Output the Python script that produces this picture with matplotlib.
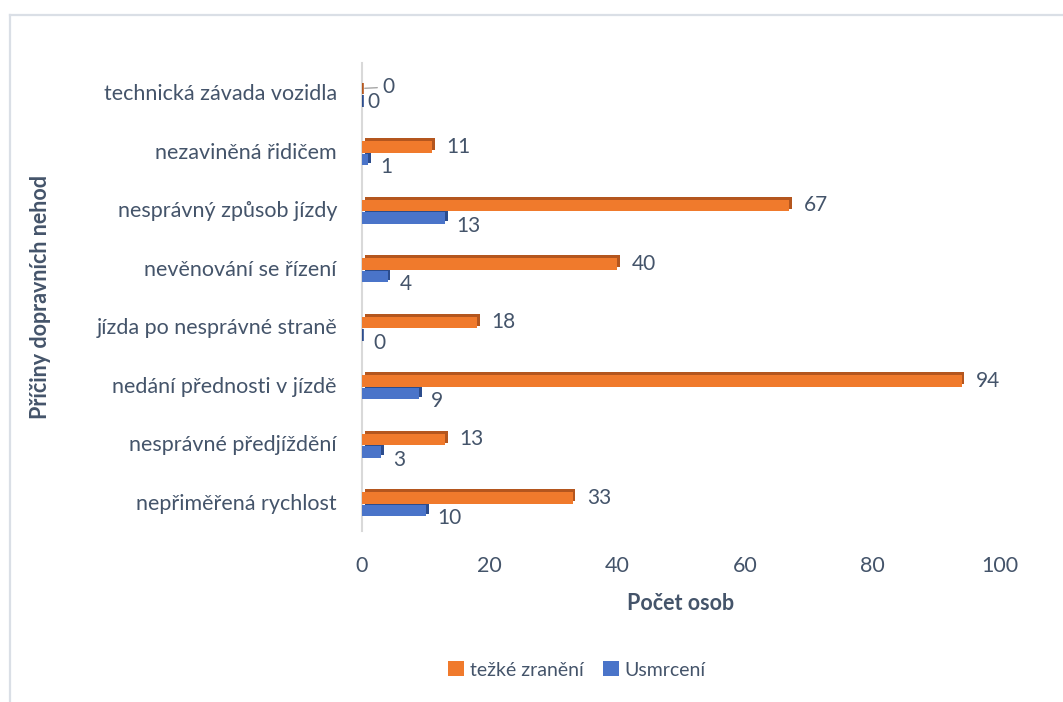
import matplotlib
matplotlib.use("Agg")
import matplotlib.pyplot as plt
from matplotlib import patheffects as pe
from matplotlib.patches import Patch
from matplotlib.lines import Line2D

# Causes of traffic accidents (bottom to top as drawn)
categories = [
    "nepřiměřená rychlost",
    "nesprávné předjíždění",
    "nedání přednosti v jízdě",
    "jízda po nesprávné straně",
    "nevěnování se řízení",
    "nesprávný způsob jízdy",
    "nezaviněná řidičem",
    "technická závada vozidla",
]
tezke_zraneni = [33, 13, 94, 18, 40, 67, 11, 0]
usmrceni = [10, 3, 9, 0, 4, 13, 1, 0]
x_ticks = [0, 20, 40, 60, 80, 100]
series_names = ["težké zranění", "Usmrcení"]

plt.rcParams["font.family"] = ["Lato", "DejaVu Sans"]
TEXT = "#44546A"
ORANGE, ORANGE_DARK = "#F07A2C", "#B4561E"
BLUE, BLUE_DARK = "#4A74C9", "#2C4C8C"
FS = 15.5
FS_VAL = 15

W, H = 1063, 702
fig = plt.figure(figsize=(W / 100, H / 100), dpi=100)

# chart frame
frame_c = "#DADFE6"
fig.add_artist(Line2D([10 / W, 10 / W], [0, 1 - 15 / H], color=frame_c, lw=1.6))
fig.add_artist(Line2D([10 / W, 1], [1 - 15 / H, 1 - 15 / H], color=frame_c, lw=1.6))

ax = fig.add_axes([362 / W, 1 - 531 / H, 638 / W, 468 / H])

ypos = list(range(len(categories)))
bar_h = 0.2
y_orange = [y + 0.065 for y in ypos]
y_blue = [y - 0.15 for y in ypos]


def depth(dark):
    return [pe.SimplePatchShadow(offset=(2.0, 2.0), shadow_rgbFace=dark, alpha=1.0),
            pe.Normal()]


def style_bars(container, values, dark):
    for p, v in zip(container, values):
        p.set_path_effects(depth(dark))
        if v == 0:
            # a zero bar still shows its extruded side
            p.set_edgecolor(dark)
            p.set_linewidth(2.6)


bb = ax.barh(y_blue, usmrceni, height=bar_h, color=BLUE, zorder=3)
style_bars(bb, usmrceni, BLUE_DARK)
bo = ax.barh(y_orange, tezke_zraneni, height=bar_h, color=ORANGE, zorder=4)
style_bars(bo, tezke_zraneni, ORANGE_DARK)

last = len(categories) - 1
for i, (v, y) in enumerate(zip(tezke_zraneni, y_orange)):
    if v == 0:
        # label pulled aside with a leader line
        ax.annotate(str(v), xy=(v, y), xytext=(15, 1), textcoords="offset points",
                    va="center", ha="left", fontsize=FS_VAL, color=TEXT,
                    arrowprops=dict(arrowstyle="-", color="#A6A6A6", lw=1.0,
                                    shrinkA=2, shrinkB=2))
    else:
        ax.annotate(str(v), xy=(v, y), xytext=(10.5, 0), textcoords="offset points",
                    va="center", ha="left", fontsize=FS_VAL, color=TEXT)

for i, (v, y) in enumerate(zip(usmrceni, y_blue)):
    dx, dy = (8.5, -5.5)
    if i == last:
        dx, dy = (4.0, -1.0)
    ax.annotate(str(v), xy=(v, y), xytext=(dx, dy), textcoords="offset points",
                va="center", ha="left", fontsize=FS_VAL, color=TEXT)

ax.set_xlim(0, 100)
ax.set_ylim(-0.5, len(categories) - 0.5)
ax.set_xticks(x_ticks)
ax.set_yticks(ypos)
ax.set_yticklabels(categories)
ax.tick_params(axis="both", length=0, labelsize=FS, labelcolor=TEXT)
ax.tick_params(axis="y", pad=18)
ax.tick_params(axis="x", pad=18)
for s in ["top", "right", "bottom"]:
    ax.spines[s].set_visible(False)
ax.spines["left"].set_color("#D9D9D9")
ax.spines["left"].set_linewidth(1.5)
ax.spines["left"].set_zorder(1)

fig.text(681 / W, 1 - 604 / H, "Počet osob", ha="center", va="center",
         fontsize=FS, fontweight="bold", color=TEXT)
fig.text(41 / W, 1 - 297 / H, "Příčiny dopravních nehod", ha="center", va="center",
         rotation=90, fontsize=FS, fontweight="bold", color=TEXT)

handles = [Patch(facecolor=ORANGE, edgecolor="none"), Patch(facecolor=BLUE, edgecolor="none")]
fig.legend(handles, series_names, loc="center", bbox_to_anchor=(577 / W, 1 - 670 / H),
           ncol=2, frameon=False, fontsize=14, labelcolor=TEXT,
           handlelength=0.8, handleheight=0.8, handletextpad=0.3, columnspacing=1.0)

fig.savefig("out.png", dpi=100)
